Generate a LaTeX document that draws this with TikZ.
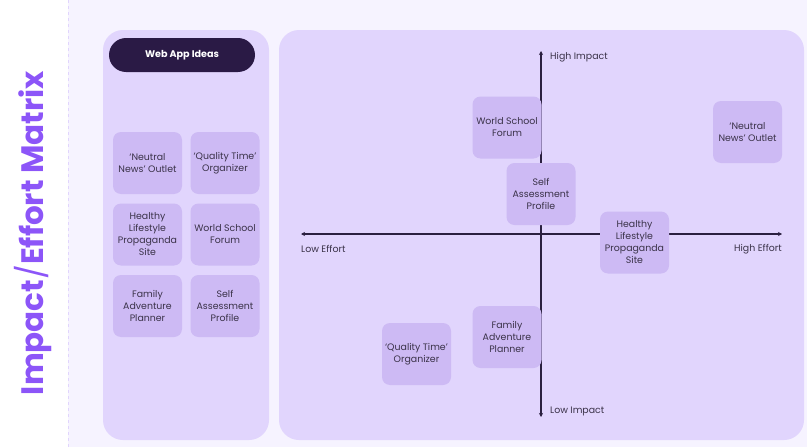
\documentclass[tikz,border=0pt]{standalone}
\usepackage{fontspec}
\setmainfont{Poppins}
\usetikzlibrary{arrows.meta}

\definecolor{pagebg}{HTML}{F6F3FF}
\definecolor{panelbg}{HTML}{E1D5FD}
\definecolor{ideabg}{HTML}{CDBAF4}
\definecolor{pillbg}{HTML}{2A1A45}
\definecolor{titlepurple}{HTML}{8C55F8}
\definecolor{ink}{HTML}{3A3248}
\definecolor{axisink}{HTML}{2B2040}

\tikzset{
  panel/.style={fill=panelbg, rounded corners=20pt},
  idea/.style={fill=ideabg, rounded corners=8pt, minimum width=69pt, minimum height=62pt,
    inner sep=0pt, align=center, text=ink, font=\fontsize{9.4}{12}\selectfont},
  axis/.style={draw=axisink, line width=1.1pt, {Stealth[length=4pt,width=4pt]}-{Stealth[length=4pt,width=4pt]}},
  axlabel/.style={inner sep=0pt, text=ink, font=\fontsize{9.4}{11}\selectfont}
}

\begin{document}
\begin{tikzpicture}[x=1pt,y=-1pt]
\useasboundingbox (0,0) rectangle (807,447);
% background
\fill[pagebg] (68,0) rectangle (807,447);
\draw[panelbg, dashed, line width=0.5pt] (68,0) -- (68,447);

% title
\node[rotate=90, text=titlepurple, inner sep=0pt, font=\fontsize{31}{31}\selectfont\bfseries] (title) at (33,233)
  {Impact{\mdseries/}Effort Matrix};

% left panel with the list of ideas
\fill[panel] (103,30) rectangle (269,440);
\node[fill=pillbg, rounded corners=17pt, minimum width=146pt, minimum height=34pt, inner sep=0pt,
  text=white, font=\fontsize{9.6}{10}\selectfont\bfseries] (list) at (182,55) {Web App Ideas};

\foreach \n/\x/\y/\t in {news/147.5/163/{`Neutral\\News' Outlet},
                          time/225/163/{`Quality Time'\\Organizer},
                          health/147.5/234.5/{Healthy\\Lifestyle\\Propaganda\\Site},
                          school/225/234.5/{World School\\Forum},
                          family/147.5/306/{Family\\Adventure\\Planner},
                          self/225/306/{Self\\Assessment\\Profile}}
  \node[idea] (l-\n) at (\x,\y) {\t};

% matrix panel
\fill[panel] (279,30) rectangle (804,440);
\coordinate (hi) at (541,51);
\coordinate (lo) at (541,417);
\coordinate (le) at (301,234);
\coordinate (he) at (782,234);
\draw[axis] (lo) -- (hi);
\draw[axis] (le) -- (he);
\node[axlabel, anchor=west] (hilabel) at (550,57) {High Impact};
\node[axlabel, anchor=west] (lolabel) at (550,411) {Low Impact};
\node[axlabel, anchor=west] (lelabel) at (301,249) {Low Effort};
\node[axlabel, anchor=east] (helabel) at (782,249) {High Effort};

\node[idea] (m-school) at (507,127.5) {World School\\Forum};
\node[idea] (m-self) at (541,194) {Self\\Assessment\\Profile};
\node[idea] (m-health) at (634.5,242.5) {Healthy\\Lifestyle\\Propaganda\\Site};
\node[idea] (m-news) at (747.5,132) {`Neutral\\News' Outlet};
\node[idea] (m-time) at (416.5,354) {`Quality Time'\\Organizer};
\node[idea] (m-family) at (507,337) {Family\\Adventure\\Planner};
\end{tikzpicture}
\end{document}
